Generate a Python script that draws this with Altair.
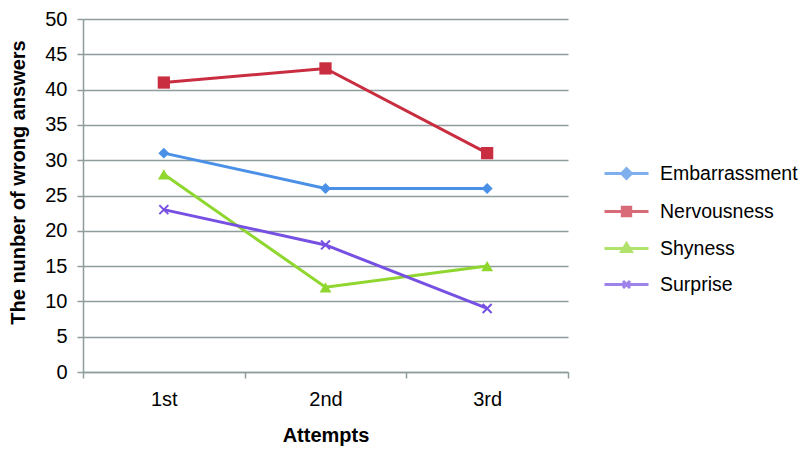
import altair as alt
import pandas as pd

attempts = ["1st", "2nd", "3rd"]
series = ["Embarrassment", "Nervousness", "Shyness", "Surprise"]
embarrassment = [31, 26, 26]
nervousness = [41, 43, 31]
shyness = [28, 12, 15]
surprise = [23, 18, 9]
colors = ["#4a90e6", "#c92d40", "#8fd62e", "#7650e2"]
y_ticks = [0, 5, 10, 15, 20, 25, 30, 35, 40, 45, 50]

values = [embarrassment, nervousness, shyness, surprise]
rows = []
for s, vals in zip(series, values):
    for a, v in zip(attempts, vals):
        rows.append({"Attempt": a, "Series": s, "Value": v})
df = pd.DataFrame(rows)

FONT = "Liberation Sans"
GRID = "#8e9c9c"

x = alt.X("Attempt:N", sort=attempts, title="Attempts",
          scale=alt.Scale(paddingInner=0, paddingOuter=0),
          axis=alt.Axis(labelAngle=0, tickBand="extent", tickSize=6,
                        labelPadding=11, titlePadding=16, grid=False))
y = alt.Y("Value:Q", title="The nunber of wrong answers",
          scale=alt.Scale(domain=[0, 50], nice=False),
          axis=alt.Axis(values=y_ticks, tickSize=6, labelPadding=10,
                        titlePadding=16, titleY=163))

marker_shapes = {
    "Embarrassment": ("diamond", 120, True),
    "Nervousness": ("square", 150, True),
    "Shyness": ("triangle-up", 140, True),
    "Surprise": ("M-1,-1L1,1M-1,1L1,-1", 80, False),
}

layers = []
for s, c in zip(series, colors):
    layers.append(
        alt.Chart(df).transform_filter(alt.datum.Series == s)
        .mark_line(strokeWidth=3, color=c).encode(x=x, y=y))
for s, c in zip(series, colors):
    shp, sz, filled = marker_shapes[s]
    base = alt.Chart(df).transform_filter(alt.datum.Series == s)
    if filled:
        m = base.mark_point(shape=shp, size=sz, filled=True, fill=c,
                            opacity=1, strokeWidth=0)
    else:
        m = base.mark_point(shape=shp, size=sz, filled=False, stroke=c,
                            opacity=1, strokeWidth=2)
    layers.append(m.encode(x=x, y=y))

legend_paths = [
    "M-1,0H1M-0.22,0L0,-0.22L0.22,0L0,0.22ZM-0.1,0L0,-0.1L0.1,0L0,0.1Z",
    "M-1,0H1M-0.19,-0.19H0.19V0.19H-0.19ZM-0.08,-0.08H0.08V0.08H-0.08Z",
    "M-1,0H1M-0.22,0.14L0,-0.22L0.22,0.14ZM-0.1,0.08L0,-0.08L0.1,0.08Z",
    "M-1,0H1M-0.16,-0.16L0.16,0.16M-0.16,0.16L0.16,-0.16",
]
legend_layer = alt.Chart(df).mark_point(filled=False, strokeWidth=3).encode(
    x=alt.value(-3000), y=alt.value(-3000),
    color=alt.Color("Series:N", scale=alt.Scale(domain=series, range=colors),
                    legend=alt.Legend(
                        title=None, orient="none", legendX=520, legendY=131,
                        symbolSize=1936, symbolStrokeWidth=3,
                        labelFontSize=19.5, labelFont=FONT, labelColor="#000000",
                        labelOffset=10, rowPadding=3, padding=0,
                        labelLimit=400)),
    shape=alt.Shape("Series:N", scale=alt.Scale(domain=series, range=legend_paths)),
)
layers.append(legend_layer)

chart = alt.layer(*layers).properties(
    width=485, height=353,
    autosize=alt.AutoSizeParams(type="none"),
    padding={"left": 75, "top": 11, "right": 234, "bottom": 76},
).configure_view(stroke=None).configure_axis(
    labelFont=FONT, titleFont=FONT, labelFontSize=20, titleFontSize=20,
    titleFontWeight="bold", labelColor="#000000", titleColor="#000000",
    domainColor=GRID, tickColor=GRID, gridColor=GRID, domainWidth=1.5,
    gridWidth=1.5, tickWidth=1.5,
)

chart.save("out.html", embed_options={"renderer": "svg", "actions": False})
